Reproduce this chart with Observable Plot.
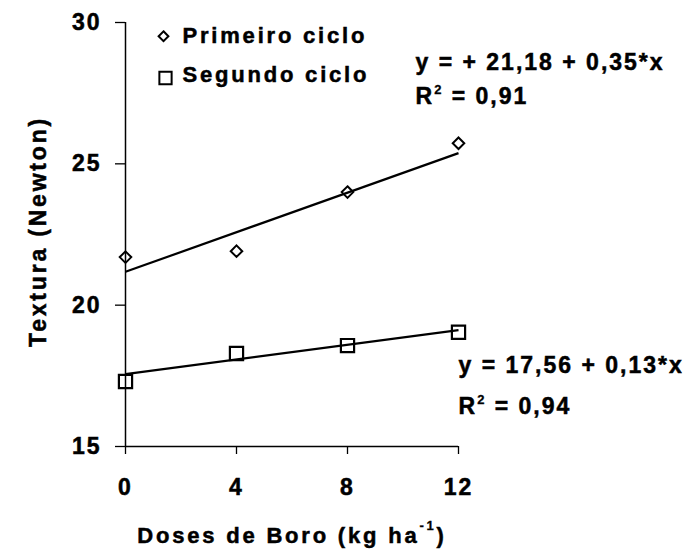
<!DOCTYPE html>
<html><head><meta charset="utf-8">
<script src="https://cdn.jsdelivr.net/npm/d3@7"></script>
<script src="https://cdn.jsdelivr.net/npm/@observablehq/plot@0.6"></script>
<style>
body{margin:0;background:#fff;}
#chart svg{font-family:"Liberation Sans",Arial,sans-serif;}
.sp2 text{letter-spacing:2px;stroke:black;stroke-width:0.5px;}
.sp3 text{letter-spacing:2.8px;stroke:black;stroke-width:0.5px;}
</style></head><body><div id="chart"></div>
<script>
const doses = [0, 4, 8, 12];
const primeiro = [21.70, 21.91, 24.00, 25.73];
const segundo = [17.30, 18.29, 18.57, 19.04];
const xTicks = [0, 4, 8, 12];
const yTicks = [15, 20, 25, 30];
const series = ["Primeiro ciclo", "Segundo ciclo"];
const fitIntercept = [21.18, 17.56];
const fitSlope = [0.35, 0.13];
const eqText = ["y = + 21,18 + 0,35*x", "y = 17,56 + 0,13*x"];
const r2Text = ["R² = 0,91", "R² = 0,94"];
const xTitle = "Doses de Boro (kg ha⁻¹)";
const yTitle = "Textura (Newton)";

const pts1 = doses.map((d, i) => ({x: d, y: primeiro[i]}));
const pts2 = doses.map((d, i) => ({x: d, y: segundo[i]}));
const fits = series.map((s, i) => ({s, x1: doses[0], y1: fitIntercept[i], x2: doses[doses.length - 1], y2: fitIntercept[i] + fitSlope[i] * doses[doses.length - 1]}));

const txt = {fill: "black", fontWeight: "bold", lineAnchor: "middle"};

const chart = Plot.plot({
  width: 693, height: 556,
  marginLeft: 125, marginRight: 235, marginTop: 22, marginBottom: 110,
  x: {domain: [0, 12]},
  y: {domain: [15, 30]},
  style: {background: "white", color: "black"},
  marks: [
    Plot.ruleX([0], {y1: 15, y2: 30, strokeWidth: 1.5}),
    Plot.ruleY([15], {x1: 0, x2: 12, strokeWidth: 1.5}),
    Plot.axisY(yTicks, {tickSize: 10, tickPadding: 14, fontSize: 23, fontWeight: "bold", strokeWidth: 1.3, tickFormat: d => d, className: "sp2"}),
    Plot.axisX(xTicks, {tickSize: 8, tickPadding: 24, fontSize: 23, fontWeight: "bold", strokeWidth: 1.3, tickFormat: d => d, className: "sp2"}),
    Plot.link(fits, {x1: "x1", y1: "y1", x2: "x2", y2: "y2", stroke: "black", strokeWidth: 2.2}),
    Plot.dot(pts1, {x: "x", y: "y", symbol: "diamond2", r: 5.2, stroke: "black", strokeWidth: 2}),
    Plot.dot(pts2, {x: "x", y: "y", symbol: "square2", r: 8.4, stroke: "black", strokeWidth: 2.2}),
    // legend
    Plot.dot([series[0]], {frameAnchor: "top-left", dx: 38, dy: 13.7, symbol: "diamond2", r: 4.4, stroke: "black", strokeWidth: 2}),
    Plot.dot([series[1]], {frameAnchor: "top-left", dx: 40, dy: 55.5, symbol: "square2", r: 7.8, stroke: "black", strokeWidth: 2}),
    Plot.text([series[0]], {...txt, text: d => d, frameAnchor: "top-left", dx: 57, dy: 13.7, textAnchor: "start", fontSize: 22, className: "sp3"}),
    Plot.text([series[1]], {...txt, text: d => d, frameAnchor: "top-left", dx: 57, dy: 52.7, textAnchor: "start", fontSize: 22, className: "sp3"}),
    // equations
    Plot.text([eqText[0]], {...txt, text: d => d, frameAnchor: "top-left", dx: 290, dy: 40.6, textAnchor: "start", fontSize: 23, className: "sp2"}),
    Plot.text([r2Text[0]], {...txt, text: d => d, frameAnchor: "top-left", dx: 290, dy: 74.6, textAnchor: "start", fontSize: 23, className: "sp2 sup"}),
    Plot.text([eqText[1]], {...txt, text: d => d, frameAnchor: "top-left", dx: 333, dy: 343.6, textAnchor: "start", fontSize: 23, className: "sp2"}),
    Plot.text([r2Text[1]], {...txt, text: d => d, frameAnchor: "top-left", dx: 333, dy: 384.6, textAnchor: "start", fontSize: 23, className: "sp2 sup"}),
    // axis titles
    Plot.text([xTitle], {...txt, text: d => d, frameAnchor: "bottom", dy: 89, textAnchor: "middle", fontSize: 22, className: "sp3 sup"}),
    Plot.text([yTitle], {...txt, text: d => d, frameAnchor: "left", dx: -87, dy: -3, rotate: -90, textAnchor: "middle", fontSize: 23, className: "sp3"})
  ]
});
document.getElementById("chart").appendChild(chart);

// render superscript characters as raised tspans
const supMap = {"²": "2", "⁻¹": "-1"};
d3.select(chart).selectAll("g.sup text").each(function () {
  const t = d3.select(this);
  const s = t.text();
  const key = s.includes("⁻¹") ? "⁻¹" : "²";
  const [a, b] = s.split(key);
  t.text(null);
  t.append("tspan").text(a);
  t.append("tspan").attr("dy", key === "²" ? -10 : -13).attr("font-size", 13).attr("style", "stroke-width:0.3px").text(supMap[key]);
  t.append("tspan").attr("dy", key === "²" ? 10 : 13).text(b);
});
</script></body></html>
